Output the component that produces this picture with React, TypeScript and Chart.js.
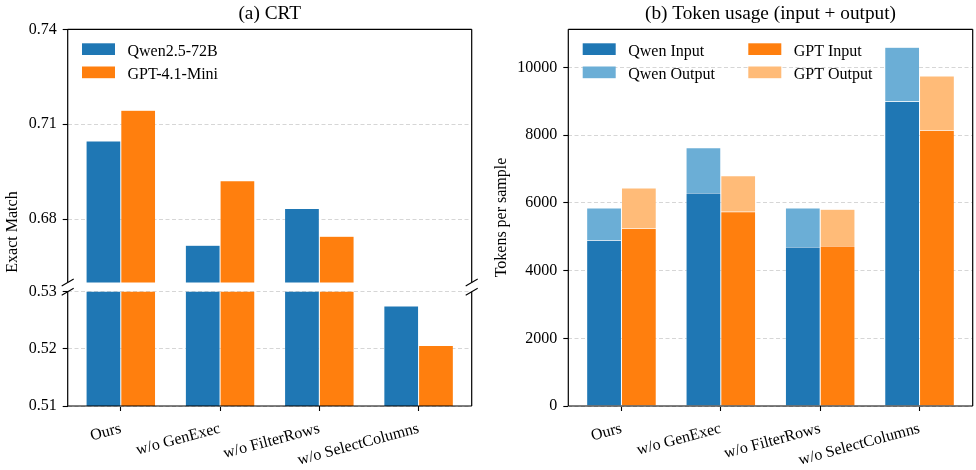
import React, { useEffect, useRef } from 'react';
import { Chart, registerables } from 'chart.js';

Chart.register(...registerables);

// ---------------- data ----------------
const categories = ['Ours', 'w/o GenExec', 'w/o FilterRows', 'w/o SelectColumns'];

const qwenExactMatch = [0.7047, 0.6718, 0.6834, 0.5275];
const gptExactMatch = [0.7144, 0.6922, 0.6746, 0.5206];

const qwenInput = [4900, 6290, 4700, 9000];
const qwenOutput = [950, 1340, 1150, 1600];
const gptInput = [5250, 5740, 4730, 8150];
const gptOutput = [1190, 1060, 1080, 1600];

const emUpperTicks = [0.68, 0.71, 0.74];
const emLowerTicks = [0.51, 0.52, 0.53];
const tokenTicks = [0, 2000, 4000, 6000, 8000, 10000];

const emUpperRange = [0.66, 0.74];
const emLowerRange = [0.51, 0.53];
const tokenRange = [0, 11130];

// ---------------- style ----------------
const W = 976;
const H = 470;
const FONT = "'Liberation Serif', 'Times New Roman', Times, serif";
const C_BLUE = '#1f77b4';
const C_BLUE_L = '#6baed6';
const C_ORANGE = '#ff7f0e';
const C_ORANGE_L = '#ffbb78';
const GRID = '#d6d6d6';

Chart.defaults.font.family = FONT;
Chart.defaults.font.size = 16;
Chart.defaults.color = '#000';

const figPlugin = {
  id: 'fig',
  afterDraw(chart: any, _args: any, opts: any) {
    const ctx = chart.ctx as CanvasRenderingContext2D;
    const a = chart.chartArea;
    ctx.save();
    ctx.setLineDash([]);
    ctx.strokeStyle = '#000';
    ctx.lineWidth = 1.2;
    const s: string = opts.sides || '';
    ctx.beginPath();
    if (s.includes('l')) { ctx.moveTo(a.left, a.top); ctx.lineTo(a.left, a.bottom); }
    if (s.includes('r')) { ctx.moveTo(a.right, a.top); ctx.lineTo(a.right, a.bottom); }
    if (s.includes('t')) { ctx.moveTo(a.left, a.top); ctx.lineTo(a.right, a.top); }
    if (s.includes('b')) { ctx.moveTo(a.left, a.bottom); ctx.lineTo(a.right, a.bottom); }
    ctx.stroke();
    if (opts.breakAt) {
      const y = opts.breakAt === 'bottom' ? a.bottom : a.top;
      ctx.lineWidth = 1.1;
      ctx.beginPath();
      for (const x of [a.left, a.right]) {
        ctx.moveTo(x - 6, y + 3.5);
        ctx.lineTo(x + 6, y - 3.5);
      }
      ctx.stroke();
    }
    for (const it of opts.legend || []) {
      const ds = chart.data.datasets[it.ds];
      ctx.fillStyle = ds.backgroundColor;
      ctx.fillRect(it.x, it.y, 33, 11.7);
      ctx.fillStyle = '#000';
      ctx.font = `16px ${FONT}`;
      ctx.textAlign = 'left';
      ctx.textBaseline = 'alphabetic';
      ctx.fillText(ds.label, it.x + 45.5, it.y + 5.85 + 6.4);
    }
    for (const t of opts.texts || []) {
      ctx.save();
      ctx.translate(t.x, t.y);
      if (t.rot) ctx.rotate(t.rot);
      ctx.fillStyle = '#000';
      ctx.font = `${t.size}px ${FONT}`;
      ctx.textAlign = t.align || 'center';
      ctx.textBaseline = t.baseline || 'alphabetic';
      ctx.fillText(t.text, 0, 0);
      ctx.restore();
    }
    ctx.restore();
  },
};

function xScale(show: boolean) {
  return {
    type: 'linear',
    min: -0.535,
    max: 3.535,
    offset: false,
    display: show,
    afterBuildTicks: (s: any) => { s.ticks = categories.map((_, i) => ({ value: i })); },
    afterFit: (s: any) => { if (show) s.height = H - 406; },
    grid: { offset: false, drawOnChartArea: false, drawTicks: true, tickLength: 5, tickColor: '#000', tickWidth: 1.1 },
    border: { display: false },
    ticks: {
      autoSkip: false,
      maxRotation: 15,
      minRotation: 15,
      padding: 8,
      font: { size: 16 },
      callback: (v: number) => categories[v] ?? '',
    },
  };
}

function yScale(range: number[], ticks: number[], width: number, fmt: (v: number) => string, stacked = false) {
  return {
    type: 'linear',
    min: range[0],
    max: range[1],
    stacked,
    afterBuildTicks: (s: any) => { s.ticks = ticks.map((v) => ({ value: v })); },
    afterFit: (s: any) => { s.width = width; },
    grid: { color: GRID, lineWidth: 1, tickColor: '#000', tickWidth: 1.1, tickLength: 5, tickBorderDash: [] },
    border: { display: false, dash: [4, 2.5] },
    ticks: { padding: 6, font: { size: 16 }, callback: (v: number) => fmt(v) },
  };
}

const toXY = (arr: number[]) => arr.map((v, i) => ({ x: i, y: v }));

function emDatasets() {
  return [
    { label: 'Qwen2.5-72B', data: toXY(qwenExactMatch), backgroundColor: C_BLUE, borderColor: 'rgba(255,255,255,0.6)', borderWidth: 0.5 },
    { label: 'GPT-4.1-Mini', data: toXY(gptExactMatch), backgroundColor: C_ORANGE, borderColor: 'rgba(255,255,255,0.6)', borderWidth: 0.5 },
  ];
}

const LEFT = 67.7;
const RIGHT_L = 471.7;
const LEFT_R = 568.3;
const RIGHT_R = 972.7;
const TOP = 29.3;

const baseOpts = {
  responsive: false,
  animation: false,
  events: [],
  datasets: { bar: { categoryPercentage: 0.7, barPercentage: 1.0, grouped: true } },
};

function cfgUpper(): any {
  return {
    type: 'bar',
    data: { datasets: emDatasets() },
    options: {
      ...baseOpts,
      layout: { padding: { left: 0, top: TOP, right: W - RIGHT_L, bottom: H - 282.6 } },
      scales: {
        x: xScale(false),
        y: yScale(emUpperRange, emUpperTicks, LEFT, (v) => v.toFixed(2)),
      },
      plugins: {
        legend: { display: false },
        tooltip: { enabled: false },
        fig: {
          sides: 'ltr',
          breakAt: 'bottom',
          legend: [
            { ds: 0, x: 82, y: 43.3 },
            { ds: 1, x: 82, y: 66.5 },
          ],
          texts: [
            { text: '(a) CRT', x: (LEFT + RIGHT_L) / 2, y: 18.5, size: 19.3 },
            { text: 'Exact Match', x: 16.5, y: 232, size: 16, rot: -Math.PI / 2 },
          ],
        },
      },
    },
    plugins: [figPlugin],
  };
}

function cfgLower(): any {
  return {
    type: 'bar',
    data: { datasets: emDatasets() },
    options: {
      ...baseOpts,
      layout: { padding: { left: 0, top: 291.7, right: W - RIGHT_L, bottom: 0 } },
      scales: {
        x: xScale(true),
        y: yScale(emLowerRange, emLowerTicks, LEFT, (v) => v.toFixed(2)),
      },
      plugins: {
        legend: { display: false },
        tooltip: { enabled: false },
        fig: { sides: 'lrb', breakAt: 'top' },
      },
    },
    plugins: [figPlugin],
  };
}

function cfgTokens(): any {
  const b = { borderColor: 'rgba(255,255,255,0.6)', borderWidth: 0.5 };
  return {
    type: 'bar',
    data: {
      datasets: [
        { label: 'Qwen Input', data: toXY(qwenInput), stack: 'qwen', backgroundColor: C_BLUE, ...b },
        { label: 'Qwen Output', data: toXY(qwenOutput), stack: 'qwen', backgroundColor: C_BLUE_L, ...b },
        { label: 'GPT Input', data: toXY(gptInput), stack: 'gpt', backgroundColor: C_ORANGE, ...b },
        { label: 'GPT Output', data: toXY(gptOutput), stack: 'gpt', backgroundColor: C_ORANGE_L, ...b },
      ],
    },
    options: {
      ...baseOpts,
      layout: { padding: { left: 0, top: TOP, right: W - RIGHT_R, bottom: 0 } },
      scales: {
        x: xScale(true),
        y: yScale(tokenRange, tokenTicks, LEFT_R, (v) => String(v), true),
      },
      plugins: {
        legend: { display: false },
        tooltip: { enabled: false },
        fig: {
          sides: 'lrtb',
          legend: [
            { ds: 0, x: 582.7, y: 43.3 },
            { ds: 1, x: 582.7, y: 66.5 },
            { ds: 2, x: 748.3, y: 43.3 },
            { ds: 3, x: 748.3, y: 66.5 },
          ],
          texts: [
            { text: '(b) Token usage (input + output)', x: (LEFT_R + RIGHT_R) / 2, y: 18.5, size: 19.3 },
            { text: 'Tokens per sample', x: 505.5, y: 217.5, size: 16, rot: -Math.PI / 2 },
          ],
        },
      },
    },
    plugins: [figPlugin],
  };
}

export default function App() {
  const r1 = useRef<HTMLCanvasElement>(null);
  const r2 = useRef<HTMLCanvasElement>(null);
  const r3 = useRef<HTMLCanvasElement>(null);

  useEffect(() => {
    const charts = [
      new Chart(r1.current as HTMLCanvasElement, cfgUpper()),
      new Chart(r2.current as HTMLCanvasElement, cfgLower()),
      new Chart(r3.current as HTMLCanvasElement, cfgTokens()),
    ];
    return () => charts.forEach((c) => c.destroy());
  }, []);

  const cs: React.CSSProperties = { position: 'absolute', left: 0, top: 0, width: W, height: H };
  return (
    <div style={{ position: 'absolute', left: 0, top: 0, width: W, height: H, background: '#fff' }}>
      <canvas ref={r1} width={W} height={H} style={cs} />
      <canvas ref={r2} width={W} height={H} style={cs} />
      <canvas ref={r3} width={W} height={H} style={cs} />
    </div>
  );
}
